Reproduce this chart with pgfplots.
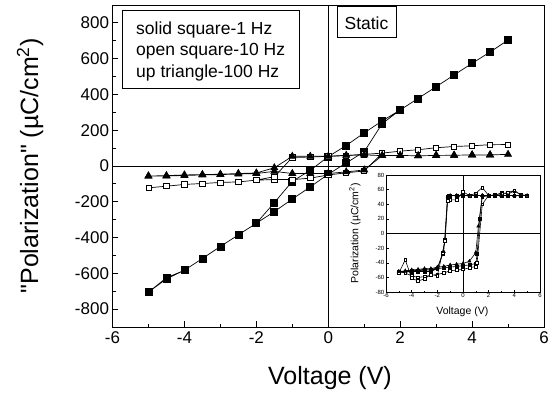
\documentclass[border=0pt]{standalone}
\usepackage{fontspec}
\setmainfont{Liberation Sans}[Ligatures=TeXOff]
\usepackage{pgfplots}
\pgfplotsset{compat=1.18}
\begin{document}
\begin{tikzpicture}
\path[use as bounding box] (-112.5pt,-70pt) rectangle (442.5pt,327pt);
\begin{axis}[
  at={(0pt,0pt)}, anchor=south west,
  width=431.5pt, height=322pt, scale only axis,
  xmin=-6, xmax=6, ymin=-900, ymax=900,
  xtick={-6,-4,...,6}, ytick={-800,-600,...,800},
  minor x tick num=1, minor y tick num=1,
  tick pos=left, tick align=inside,
  major tick length=6pt, minor tick length=3.5pt,
  tick style={black, line width=0.8pt},
  axis line style={line width=0.9pt},
  ticklabel style={font=\fontsize{17}{20}\selectfont},
  xticklabel style={yshift=-1.5pt},
  /pgf/number format/assume math mode=true,
  extra x ticks={0}, extra x tick labels={},
  extra y ticks={0}, extra y tick labels={},
  extra tick style={grid=major},
  major grid style={black, line width=0.8pt},
  every axis plot/.append style={black, line width=0.7pt},
]
\addplot[mark=square*, mark size=3.5pt, mark options={fill=black}] coordinates {
(-5,-705) (-4.5,-631) (-4,-583) (-3.5,-517) (-3,-450) (-2.5,-385) (-2,-320) (-1.5,-255) (-1,-185) (-0.5,-117) (0,-46) (0.5,17) (1,80) (1.5,237) (2,313) (2.5,378) (3,443) (3.5,509) (4,574) (4.5,637) (5,704)
(4.5,637) (4,574) (3.5,509) (3,443) (2.5,378) (2,313) (1.5,252) (1,185) (0.5,115) (0,52) (-0.5,-24) (-1,-86) (-1.5,-205) (-2,-320) (-2.5,-385) (-3,-450) (-3.5,-517) (-4,-583) (-4.5,-625) (-5,-705)};
\addplot[mark=square*, mark size=2.6pt, mark options={fill=white}] coordinates {
(-5,-122) (-4.5,-113) (-4,-103) (-3.5,-98) (-3,-92) (-2.5,-89) (-2,-79) (-1.5,-76) (-1,-76) (-0.5,-68) (0,-50) (0.5,-38) (1,-28) (1.5,72) (2,83) (2.5,91) (3,102) (3.5,109) (4,113) (4.5,119) (5,120)
(4.5,119) (4,113) (3.5,109) (3,102) (2.5,91) (2,83) (1.5,72) (1,65) (0.5,58) (0,54) (-0.5,50) (-1,48) (-1.5,-60) (-2,-79) (-2.5,-89) (-3,-92) (-3.5,-98) (-4,-103) (-4.5,-113) (-5,-122)};
\addplot[mark=triangle*, mark size=4pt, mark options={fill=black}] coordinates {
(-5,-56) (-4.5,-56) (-4,-53) (-3.5,-50) (-3,-48) (-2.5,-45) (-2,-42) (-1.5,-30) (-1,-42) (-0.5,-42) (0,-42) (0.5,-33) (1,-22) (1.5,58) (2,59) (2.5,57) (3,59) (3.5,60) (4,62) (4.5,62) (5,65)
(4.5,62) (4,62) (3.5,60) (3,59) (2.5,57) (2,59) (1.5,58) (1,62) (0.5,60) (0,54) (-0.5,54) (-1,54) (-1.5,-10) (-2,-39) (-2.5,-42) (-3,-46) (-3.5,-48) (-4,-50) (-4.5,-54) (-5,-56)};
\end{axis}
\begin{axis}[
  at={(273.5pt,35pt)}, anchor=south west,
  width=154pt, height=117pt, scale only axis,
  xmin=-6, xmax=6, ymin=-80, ymax=80,
  xtick={-6,-4,...,6}, ytick={-80,-60,...,80},
  minor x tick num=1, minor y tick num=1,
  tick pos=left, tick align=inside,
  major tick length=2.5pt, minor tick length=1.3pt,
  tick style={black, line width=0.5pt},
  axis line style={line width=0.5pt},
  axis background/.style={fill=white},
  ticklabel style={font=\fontsize{6}{7}\selectfont, inner sep=1.5pt},
  /pgf/number format/assume math mode=true,
  extra x ticks={0}, extra x tick labels={},
  extra y ticks={0}, extra y tick labels={},
  extra tick style={grid=major},
  major grid style={black, line width=0.5pt},
  every axis plot/.append style={black, line width=0.6pt},
]
\addplot[mark=square*, mark size=1.4pt, mark options={fill=black}] coordinates {
(-5,-53) (-4.5,-52) (-4,-51) (-3.5,-51) (-3,-50) (-2.5,-50) (-2,-48) (-1.5,-47) (-1,-46) (-0.5,-45) (0,-44) (0.5,-43) (1,-41) (1.1,-28) (1.3,20) (1.5,50) (2,52) (2.5,52) (3,52) (3.5,52) (4,52) (4.5,52) (5,52)
(4.5,52) (4,52) (3.5,52) (3,52) (2.5,52) (2,52) (1.5,52) (1,52) (0.5,52) (0,52) (-0.5,52) (-1,52) (-1.2,50) (-1.4,-8) (-1.6,-28) (-2,-48) (-2.5,-52) (-3,-52) (-3.5,-52) (-4,-52) (-4.5,-53) (-5,-53)};
\addplot[mark=square*, mark size=1.4pt, mark options={fill=white}] coordinates {
(-5,-52) (-4.5,-54) (-4,-58) (-3.5,-60) (-3,-59) (-2.5,-57) (-2,-56) (-1.5,-54) (-1,-51) (-0.5,-50) (0,-49) (0.5,-47) (1,-45) (1.1,-40) (1.5,40) (2,52) (2.5,52) (3,56) (3.5,54) (4,58) (4.5,53) (5,52)
(4.5,53) (4,59) (3.5,56) (3,54) (2.5,53) (2,52) (1.5,63) (1,55) (0.5,52) (0,57) (-0.5,46) (-1,46) (-1.2,45) (-1.4,-10) (-1.6,-26) (-2,-58) (-2.5,-56) (-3,-62) (-3.5,-65) (-4,-61) (-4.5,-36) (-5,-54)};
\addplot[mark=triangle*, mark size=1.8pt, mark options={fill=black}] coordinates {
(-5,-52) (-4.5,-51) (-4,-50) (-3.5,-49) (-3,-48) (-2.5,-48) (-2,-46) (-1.5,-45) (-1,-43) (-0.5,-42) (0,-41) (0.5,-38) (1,-26) (1.2,10) (1.5,52) (2,52) (2.5,52) (3,52) (3.5,52) (4,52) (4.5,52) (5,52)
(4.5,52) (4,52) (3.5,52) (3,52) (2.5,52) (2,52) (1.5,52) (1,52) (0.5,52) (0,52) (-0.5,52) (-1,52) (-1.2,51) (-1.5,-25) (-2,-47) (-2.5,-50) (-3,-49) (-3.5,-51) (-4,-50) (-4.5,-52) (-5,-52)};
\end{axis}
% labels
\node[rotate=90, font=\fontsize{25}{28}\selectfont] at (-82.5pt,161pt) {"Polarization" (µC/cm\textsuperscript{2})};
\node[font=\fontsize{25}{28}\selectfont] at (217.5pt,-51pt) {Voltage (V)};
\node[rotate=90, font=\fontsize{10.5}{12}\selectfont] at (242.5pt,93.7pt) {Polarization (µC/cm\textsuperscript{2})};
\node[font=\fontsize{10.5}{12}\selectfont] at (349.8pt,15.3pt) {Voltage (V)};
% legend box
\draw[line width=0.7pt] (10.2pt,239pt) rectangle (186.5pt,317pt);
\node[anchor=base west, inner sep=0pt, font=\fontsize{17.5}{20}\selectfont] at (23.5pt,292.5pt) {solid square-1 Hz};
\node[anchor=base west, inner sep=0pt, font=\fontsize{17.5}{20}\selectfont] at (23.5pt,271pt) {open square-10 Hz};
\node[anchor=base west, inner sep=0pt, font=\fontsize{17.5}{20}\selectfont] at (23.5pt,249.5pt) {up triangle-100 Hz};
% static box
\draw[line width=0.7pt] (224.5pt,290pt) rectangle (283.5pt,321pt);
\node[font=\fontsize{17.5}{20}\selectfont] at (254pt,304pt) {Static};
\end{tikzpicture}
\end{document}
